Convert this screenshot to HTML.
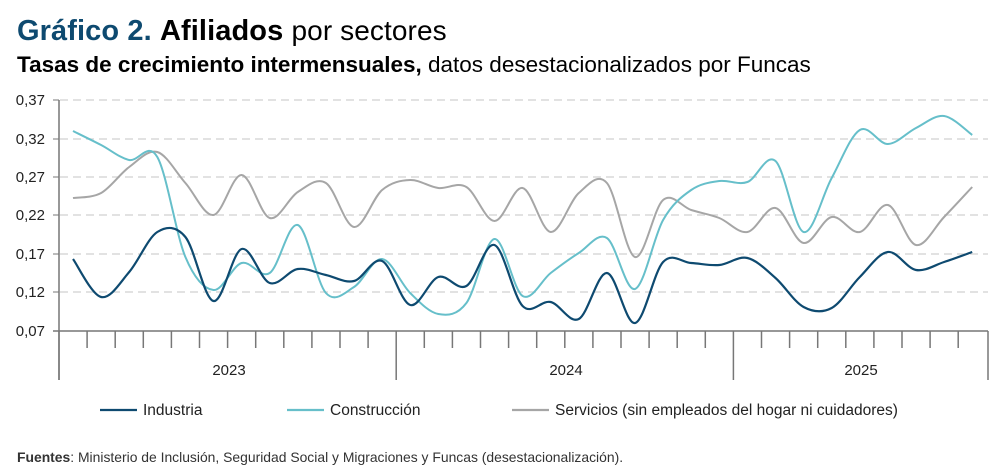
<!DOCTYPE html><html><head><meta charset="utf-8"><style>
body{margin:0;width:1003px;height:475px;background:#fff;font-family:"Liberation Sans",sans-serif;overflow:hidden;position:relative}
.t{position:absolute;white-space:nowrap}
</style></head><body>
<div class="t" style="left:17px;top:15px;font-size:29px;letter-spacing:0.1px"><b style="color:#0e4a70">Gráfico 2.</b> <b>Afiliados</b> <span style="font-size:28px">por sectores</span></div>
<div class="t" style="left:17px;top:52px;font-size:22.5px;letter-spacing:0px"><b>Tasas de crecimiento intermensuales,</b> datos desestacionalizados por Funcas</div>
<div class="t" style="left:17px;top:449px;font-size:13.9px;color:#333"><b>Fuentes</b>: Ministerio de Inclusión, Seguridad Social y Migraciones y Funcas (desestacionalización).</div>
<svg id="s" width="1003" height="475" style="position:absolute;left:0;top:0" font-family="Liberation Sans, sans-serif"></svg>
<script>
const s=document.getElementById('s');let h='';
const ys=[[0.37,100],[0.32,139],[0.27,177],[0.22,215],[0.17,254],[0.12,292],[0.07,331]];
ys.forEach(([v,y],i)=>{if(i<6)h+=`<line x1="60" x2="988" y1="${y}" y2="${y}" stroke="#d9d9d9" stroke-width="1.5" stroke-dasharray="8,5"/>`;
h+=`<line x1="53" x2="59" y1="${y}" y2="${y}" stroke="#777"/><text x="45" y="${y+5}" font-size="15" text-anchor="end" fill="#222">${v.toFixed(2).replace('.',',')}</text>`;});
h+=`<line x1="59" x2="59" y1="100" y2="380" stroke="#777" stroke-width="1.5"/><line x1="53" x2="988" y1="331" y2="331" stroke="#777" stroke-width="1.5"/>`;
for(let k=0;k<=33;k++){let x=59+28.1*k;if(k==33)x=988;let L=(k==0||k==12||k==24||k==33)?380:348;h+=`<line x1="${x}" x2="${x}" y1="331" y2="${L}" stroke="#777" stroke-width="1.5"/>`;}
[[229,'2023'],[566,'2024'],[861,'2025']].forEach(([x,t])=>h+=`<text x="${x}" y="375" font-size="15" text-anchor="middle" fill="#222">${t}</text>`);
const ind=[259,297,272,232,237,301,249,283,269,275,281,261,305,277,286,245,306,302,319,273,323,262,263,265,258,278,307,308,277,252,270,262,252];
const con=[131,145,160,157,257,290,263,273,225,293,287,259,293,314,303,239,296,273,253,238,289,220,190,181,182,161,232,178,130,144,128,116,135];
const ser=[198,193,167,152,183,215,175,218,192,183,227,190,180,188,187,221,188,232,193,183,257,200,210,218,232,208,243,217,232,205,245,217,187];
function path(a){const p=a.map((y,i)=>[73+28.1*i,y]);let d=`M${p[0][0]},${p[0][1]}`;
for(let i=0;i<p.length-1;i++){const p0=p[i-1]||p[i],p1=p[i],p2=p[i+1],p3=p[i+2]||p2;
d+=` C${p1[0]+(p2[0]-p0[0])/6},${p1[1]+(p2[1]-p0[1])/6} ${p2[0]-(p3[0]-p1[0])/6},${p2[1]-(p3[1]-p1[1])/6} ${p2[0]},${p2[1]}`;}return d;}
h+=`<path d="${path(ser)}" fill="none" stroke="#a6a6a6" stroke-width="2"/>`;
h+=`<path d="${path(con)}" fill="none" stroke="#66bfca" stroke-width="2"/>`;
h+=`<path d="${path(ind)}" fill="none" stroke="#0e4a70" stroke-width="2.2"/>`;
[[100,'#0e4a70','Industria'],[287,'#66bfca','Construcción'],[512,'#a6a6a6','Servicios (sin empleados del hogar ni cuidadores)']].forEach(([x,c,t])=>{
h+=`<line x1="${x}" x2="${x+37}" y1="410" y2="410" stroke="${c}" stroke-width="2.2"/><text x="${x+43}" y="415" font-size="15.5" fill="#222">${t}</text>`;});
s.innerHTML=h;
</script>
</body></html>
